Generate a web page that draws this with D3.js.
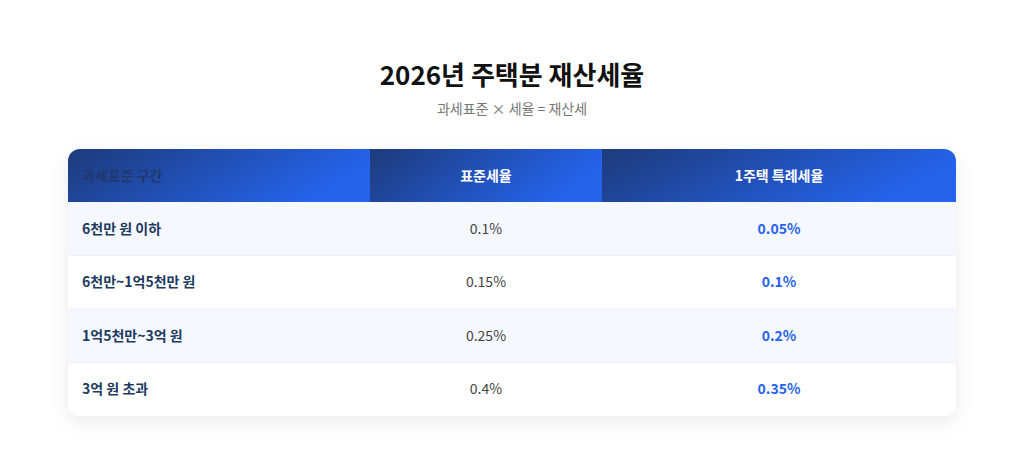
<!DOCTYPE html>
<html><head><meta charset="utf-8">
<script src="https://cdn.jsdelivr.net/npm/d3@7"></script>
<style>body{margin:0;background:#fff;font-family:"Noto Sans CJK KR","Noto Sans",sans-serif;}</style>
</head><body><svg id="chart" width="1024" height="471"></svg>
<script>
var headers = ["과세표준 구간", "표준세율", "1주택 특례세율"];
var brackets = ["6천만 원 이하", "6천만~1억5천만 원", "1억5천만~3억 원", "3억 원 초과"];
var standardRates = ["0.1%", "0.15%", "0.25%", "0.4%"];
var specialRates = ["0.05%", "0.1%", "0.2%", "0.35%"];

var svg = d3.select("#chart");
var defs = svg.append("defs");
var g1 = defs.append("linearGradient").attr("id", "hg").attr("x1", "0").attr("y1", "0").attr("x2", "1").attr("y2", "0.3");
g1.append("stop").attr("offset", "0%").attr("stop-color", "#1e3a7a");
g1.append("stop").attr("offset", "100%").attr("stop-color", "#2563eb");
var f = defs.append("filter").attr("id", "sh").attr("x", "-10%").attr("y", "-20%").attr("width", "120%").attr("height", "150%");
f.append("feDropShadow").attr("dx", 0).attr("dy", 6).attr("stdDeviation", 10).attr("flood-color", "#000").attr("flood-opacity", 0.08);
defs.append("clipPath").attr("id", "card").append("rect")
    .attr("x", 68).attr("y", 149).attr("width", 888).attr("height", 267).attr("rx", 12);

svg.append("text").attr("x", 512).attr("y", 85).attr("text-anchor", "middle")
    .attr("font-size", 26).attr("font-weight", "bold").attr("fill", "#111").text("2026년 주택분 재산세율");
svg.append("text").attr("x", 512).attr("y", 114).attr("text-anchor", "middle")
    .attr("font-size", 14).attr("fill", "#777").text("과세표준 × 세율 = 재산세");

svg.append("rect").attr("x", 68).attr("y", 149).attr("width", 888).attr("height", 267).attr("rx", 12)
    .attr("fill", "#fff").attr("filter", "url(#sh)");

var card = svg.append("g").attr("clip-path", "url(#card)");
var colEdges = [68, 370, 602, 956];
var x = d3.scaleOrdinal().domain(headers).range(colEdges.slice(0, 3));
var y = d3.scaleBand().domain(brackets).range([202, 416]);
var headH = 53;

headers.forEach(function (h, i) {
    var x0 = x(h), w = colEdges[i + 1] - x0;
    card.append("rect").attr("x", x0).attr("y", 149).attr("width", w).attr("height", headH).attr("fill", "url(#hg)");
    card.append("text")
        .attr("x", i == 0 ? x0 + 14 : x0 + w / 2).attr("y", 149 + headH / 2 + 5)
        .attr("text-anchor", i == 0 ? "start" : "middle")
        .attr("font-size", 14).attr("font-weight", "bold")
        .attr("fill", i == 0 ? "#1e3a6e" : "#fff").text(h);
});

brackets.forEach(function (b, i) {
    var y0 = y(b), h = y.bandwidth();
    card.append("rect").attr("x", 68).attr("y", y0).attr("width", 888).attr("height", h)
        .attr("fill", i % 2 == 0 ? "#f5f8fe" : "#fff");
    if (i > 0) card.append("line").attr("x1", 68).attr("x2", 956).attr("y1", y0).attr("y2", y0).attr("stroke", "#edf0f5");
    var cy = y0 + h / 2 + 5;
    card.append("text").attr("x", 82).attr("y", cy).attr("font-size", 14).attr("font-weight", "bold")
        .attr("fill", "#1e3a5f").text(b);
    card.append("text").attr("x", (colEdges[1] + colEdges[2]) / 2).attr("y", cy).attr("text-anchor", "middle")
        .attr("font-size", 14).attr("fill", "#444").text(standardRates[i]);
    card.append("text").attr("x", (colEdges[2] + colEdges[3]) / 2).attr("y", cy).attr("text-anchor", "middle")
        .attr("font-size", 14).attr("font-weight", "bold").attr("fill", "#2563eb").text(specialRates[i]);
});
</script></body></html>
